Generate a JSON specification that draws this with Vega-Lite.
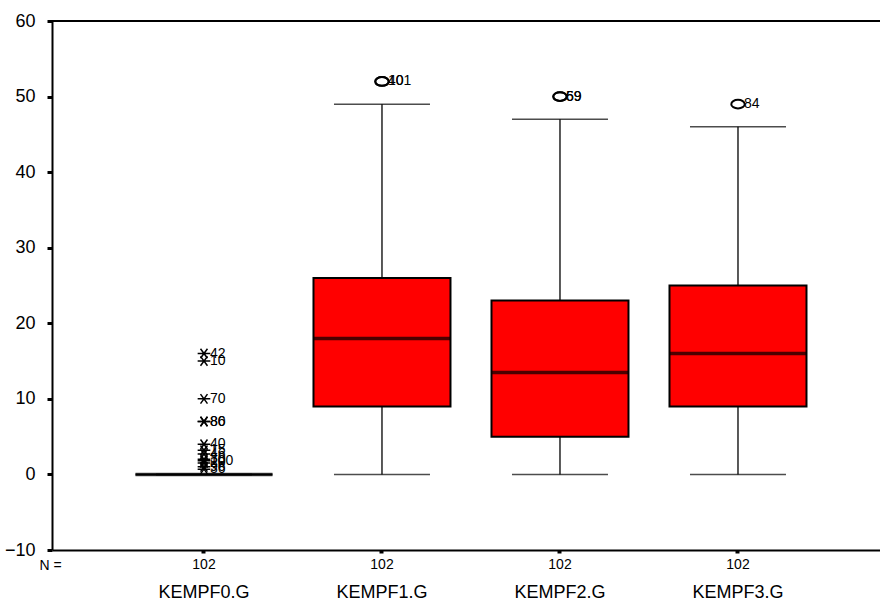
{
  "$schema": "https://vega.github.io/schema/vega-lite/v6.json",
  "autosize": {"type": "none"},
  "padding": {"left": 52, "top": 21, "right": 0, "bottom": 50},
  "width": 828,
  "height": 529,
  "background": "white",
  "config": {
    "font": "Liberation Sans",
    "view": {"stroke": null},
    "axis": {"grid": false, "labelFont": "Liberation Sans", "titleFont": "Liberation Sans", "labelColor": "black", "titleColor": "black", "domainColor": "black", "tickColor": "black"}
  },
  "datasets": {
    "boxes": [
      {"cat": "KEMPF0.G", "lo": 0, "q1": 0, "med": 0, "q3": 0, "hi": 0, "n": 102},
      {"cat": "KEMPF1.G", "lo": 0, "q1": 9, "med": 18, "q3": 26, "hi": 49, "n": 102},
      {"cat": "KEMPF2.G", "lo": 0, "q1": 5, "med": 13.5, "q3": 23, "hi": 47, "n": 102},
      {"cat": "KEMPF3.G", "lo": 0, "q1": 9, "med": 16, "q3": 25, "hi": 46, "n": 102}
    ],
    "outliers": [
      {"cat": "KEMPF0.G", "value": 16, "label": "42", "kind": "extreme"},
      {"cat": "KEMPF0.G", "value": 15, "label": "10", "kind": "extreme"},
      {"cat": "KEMPF0.G", "value": 10, "label": "70", "kind": "extreme"},
      {"cat": "KEMPF0.G", "value": 7, "label": "80", "kind": "extreme"},
      {"cat": "KEMPF0.G", "value": 7, "label": "86", "kind": "extreme"},
      {"cat": "KEMPF0.G", "value": 4, "label": "40", "kind": "extreme"},
      {"cat": "KEMPF0.G", "value": 3.2, "label": "15", "kind": "extreme"},
      {"cat": "KEMPF0.G", "value": 2.7, "label": "46", "kind": "extreme"},
      {"cat": "KEMPF0.G", "value": 2, "label": "30", "kind": "extreme"},
      {"cat": "KEMPF0.G", "value": 1.8, "label": "100", "kind": "extreme"},
      {"cat": "KEMPF0.G", "value": 1.5, "label": "20", "kind": "extreme"},
      {"cat": "KEMPF0.G", "value": 1, "label": "96", "kind": "extreme"},
      {"cat": "KEMPF0.G", "value": 0.7, "label": "36", "kind": "extreme"},
      {"cat": "KEMPF1.G", "value": 52, "label": "40", "kind": "outlier"},
      {"cat": "KEMPF1.G", "value": 52, "label": "101", "kind": "outlier"},
      {"cat": "KEMPF2.G", "value": 50, "label": "59", "kind": "outlier"},
      {"cat": "KEMPF2.G", "value": 50, "label": "69", "kind": "outlier"},
      {"cat": "KEMPF3.G", "value": 49, "label": "84", "kind": "outlier"}
    ]
  },
  "encoding": {
    "x": {
      "field": "cat", "type": "nominal",
      "scale": {"type": "band", "domain": ["KEMPF0.G", "KEMPF1.G", "KEMPF2.G", "KEMPF3.G"], "paddingInner": 0, "paddingOuter": 0.3258, "align": 0.543},
      "axis": {
        "title": "N =", "titleFontSize": 14, "titleFontWeight": "normal", "titleAnchor": "start",
        "titleAlign": "center", "titleX": -2, "titleY": 15, "titleBaseline": "middle",
        "labelAngle": 0, "labelFontSize": 18, "labelPadding": 30,
        "tickSize": 3, "tickWidth": 4, "domainWidth": 2, "domain": true
      }
    }
  },
  "layer": [
    {
      "data": {"name": "boxes"},
      "mark": {"type": "rule", "stroke": "black", "strokeWidth": 1.3},
      "encoding": {
        "y": {"field": "lo", "type": "quantitative", "scale": {"domain": [-10, 60], "nice": false, "zero": false},
          "axis": {"title": null, "values": [-10, 0, 10, 20, 30, 40, 50, 60], "labelFontSize": 18, "labelPadding": 12, "tickSize": 5, "tickWidth": 3, "domainWidth": 2}},
        "y2": {"field": "hi"}
      }
    },
    {
      "data": {"values": [{"top": 60}]},
      "mark": {"type": "rule", "stroke": "black", "strokeWidth": 2},
      "encoding": {"x": null, "y": {"field": "top", "type": "quantitative"}}
    },
    {
      "data": {"name": "boxes"},
      "mark": {"type": "tick", "color": "black", "size": 96, "thickness": 1.5, "orient": "horizontal"},
      "encoding": {"y": {"field": "hi", "type": "quantitative"}}
    },
    {
      "data": {"name": "boxes"},
      "mark": {"type": "tick", "color": "black", "size": 96, "thickness": 1.5, "orient": "horizontal"},
      "encoding": {"y": {"field": "lo", "type": "quantitative"}}
    },
    {
      "data": {"name": "boxes"},
      "mark": {"type": "bar", "fill": "#FF0000", "stroke": "black", "strokeWidth": 2, "width": 137},
      "encoding": {"y": {"field": "q1", "type": "quantitative"}, "y2": {"field": "q3"}}
    },
    {
      "data": {"name": "boxes"},
      "mark": {"type": "tick", "color": "black", "size": 137, "thickness": 3.5, "orient": "horizontal"},
      "encoding": {"y": {"field": "med", "type": "quantitative"}}
    },
    {
      "data": {"name": "outliers"},
      "transform": [{"filter": "datum.kind === 'outlier'"}],
      "mark": {"type": "point", "shape": "M-1,0A1,0.65 0 1,0 1,0A1,0.65 0 1,0 -1,0Z", "size": 180, "filled": false, "stroke": "black", "strokeWidth": 2, "opacity": 1},
      "encoding": {"y": {"field": "value", "type": "quantitative"}}
    },
    {
      "data": {"name": "outliers"},
      "transform": [{"filter": "datum.kind === 'extreme'"}],
      "mark": {"type": "point", "shape": "M-1,0L1,0M-0.55,-0.75L0.55,0.75M-0.55,0.75L0.55,-0.75", "size": 160, "filled": false, "stroke": "black", "strokeWidth": 1.5, "opacity": 1},
      "encoding": {"y": {"field": "value", "type": "quantitative"}}
    },
    {
      "data": {"name": "outliers"},
      "mark": {"type": "text", "align": "left", "baseline": "middle", "dx": 6, "fontSize": 14, "font": "Liberation Sans", "color": "black"},
      "encoding": {"y": {"field": "value", "type": "quantitative"}, "text": {"field": "label"}}
    },
    {
      "data": {"name": "boxes"},
      "mark": {"type": "text", "align": "center", "baseline": "middle", "dy": 15, "fontSize": 14, "font": "Liberation Sans", "color": "black"},
      "encoding": {"y": {"datum": -10}, "text": {"field": "n"}}
    }
  ]
}
